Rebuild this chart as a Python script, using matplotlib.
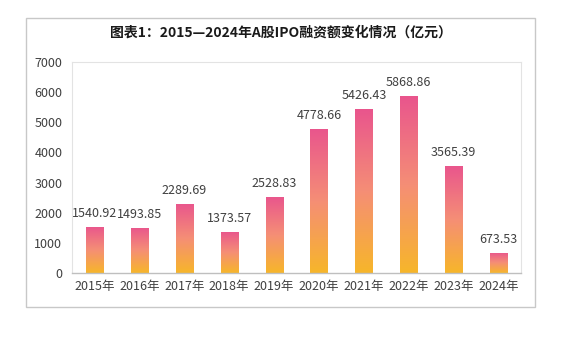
import matplotlib
matplotlib.use("Agg")
import matplotlib.pyplot as plt
import numpy as np
from matplotlib.colors import LinearSegmentedColormap
from matplotlib.patches import Rectangle

plt.rcParams['font.family'] = ['Noto Sans CJK SC', 'DejaVu Sans']

title = "图表1：2015—2024年A股IPO融资额变化情况（亿元）"
years = ["2015年", "2016年", "2017年", "2018年", "2019年",
         "2020年", "2021年", "2022年", "2023年", "2024年"]
values = [1540.92, 1493.85, 2289.69, 1373.57, 2528.83,
          4778.66, 5426.43, 5868.86, 3565.39, 673.53]
labels = ["1540.92", "1493.85", "2289.69", "1373.57", "2528.83",
          "4778.66", "5426.43", "5868.86", "3565.39", "673.53"]
yticks = [0, 1000, 2000, 3000, 4000, 5000, 6000, 7000]

fig = plt.figure(figsize=(5.66, 3.62), dpi=100)
fig.patch.set_facecolor("white")

# outer frame
frame = Rectangle((26 / 566, 1 - 307 / 362), (535 - 26) / 566, (307 - 18) / 362,
                  transform=fig.transFigure, fill=False, edgecolor="#c8c8c8",
                  linewidth=1.0)
fig.patches.append(frame)

fig.text(280.5 / 566, 1 - 33 / 362, title, ha="center", va="center",
         fontsize=10, fontweight="bold", color="#1a1a1a")

ax = fig.add_axes([72 / 566, 1 - 273 / 362, (521 - 72) / 566, (273 - 62) / 362])
x = np.arange(len(years))
width = 0.38
bars = ax.bar(x, values, width=width, color="none", edgecolor="none")

cmap = LinearSegmentedColormap.from_list(
    "pinkgold", ["#F7B62A", "#F58E76", "#E9558D"])
grad = np.linspace(0, 1, 256).reshape(-1, 1)
for b in bars:
    bx, by = b.get_x(), b.get_y()
    bw, bh = b.get_width(), b.get_height()
    im = ax.imshow(grad, cmap=cmap, origin="lower", aspect="auto",
                   extent=[bx, bx + bw, by, by + bh], zorder=2)
    im.set_clip_path(b)

for xi, v, lab in zip(x, values, labels):
    ax.annotate(lab, (xi, v), xytext=(0, 5), textcoords="offset points",
                ha="center", va="bottom", fontsize=9, color="#404040")

ax.set_xlim(-0.5, len(years) - 0.5)
ax.set_ylim(0, 7000)
ax.set_xticks(x)
ax.set_xticklabels(years, fontsize=9, color="#404040")
ax.set_yticks(yticks)
ax.set_yticklabels([str(t) for t in yticks], fontsize=9, color="#404040")
ax.tick_params(axis="both", length=0)
ax.tick_params(axis="x", pad=5)
ax.tick_params(axis="y", pad=7)
for s in ["top", "right", "left"]:
    ax.spines[s].set_color("#e3e3e3")
    ax.spines[s].set_linewidth(0.8)
ax.spines["bottom"].set_color("#bfbfbf")
ax.spines["bottom"].set_linewidth(1.0)

fig.savefig("out.png", dpi=100, facecolor="white")
